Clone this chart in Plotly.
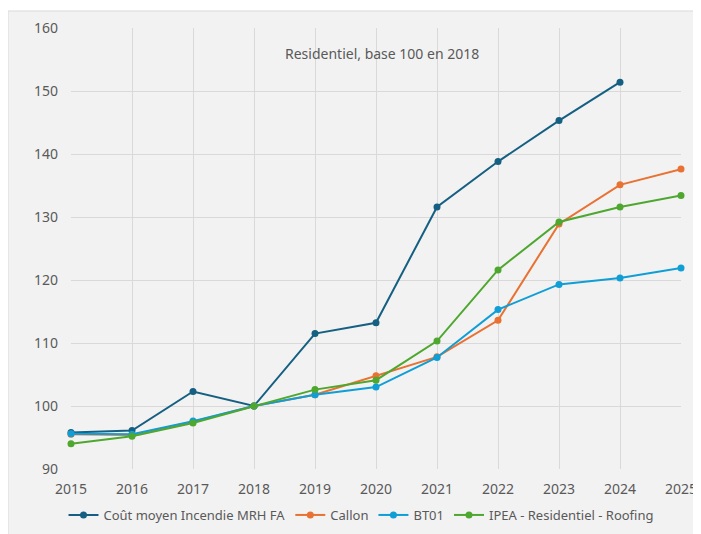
import plotly.graph_objects as go

years = [2015, 2016, 2017, 2018, 2019, 2020, 2021, 2022, 2023, 2024, 2025]

cout_moyen = [95.8, 96.1, 102.3, 100.0, 111.5, 113.2, 131.6, 138.8, 145.3, 151.4, None]
callon = [95.5, 95.4, 97.5, 100.0, 101.8, 104.8, 107.8, 113.6, 128.9, 135.1, 137.6]
bt01 = [95.6, 95.5, 97.6, 100.0, 101.8, 103.0, 107.7, 115.3, 119.3, 120.3, 121.9]
ipea = [94.0, 95.2, 97.3, 100.0, 102.6, 104.1, 110.3, 121.6, 129.2, 131.6, 133.4]

series = [
    ("Coût moyen Incendie MRH FA", cout_moyen, "#156082"),
    ("Callon", callon, "#E97132"),
    ("BT01", bt01, "#0F9ED5"),
    ("IPEA - Residentiel - Roofing", ipea, "#4EA72E"),
]

y_ticks = [90, 100, 110, 120, 130, 140, 150, 160]
title_text = "Residentiel, base 100 en 2018"

fig = go.Figure()
for name, vals, color in series:
    fig.add_trace(go.Scatter(
        x=years, y=vals, name=name, mode="lines+markers",
        line=dict(color=color, width=2),
        marker=dict(color=color, size=7),
        cliponaxis=False,
    ))

# page body has an 8px offset; figure is sized to fit the remaining viewport
OFF = 8
W, H = 693, 526
l, r, t, b = 63, 20, 20, 65
pw = W - l - r
ph = H - t - b

def px_x(sx):
    return (sx - OFF - l) / pw

def px_y(sy):
    return (H - b - (sy - OFF)) / ph

fig.add_shape(type="rect", xref="paper", yref="paper",
              x0=px_x(8), x1=px_x(702), y0=px_y(536), y1=px_y(11),
              fillcolor="#f2f2f2", line=dict(color="#d9d9d9", width=1),
              layer="below")

fig.add_annotation(text=title_text, xref="paper", yref="paper",
                   x=px_x(382), y=px_y(53), showarrow=False,
                   font=dict(size=14, color="#595959"),
                   xanchor="center", yanchor="middle")

fig.update_layout(
    width=W, height=H,
    margin=dict(l=l, r=r, t=t, b=b, autoexpand=False),
    paper_bgcolor="white",
    plot_bgcolor="rgba(0,0,0,0)",
    font=dict(family="Noto Sans, Lato, sans-serif", size=14, color="#595959"),
    showlegend=True,
    legend=dict(orientation="h", x=px_x(361), xanchor="center", y=px_y(515), yanchor="middle",
                font=dict(size=13, color="#595959"), bgcolor="rgba(0,0,0,0)",
                itemwidth=30, tracegroupgap=0),
    xaxis=dict(range=[2015, 2025], tickmode="array", tickvals=years,
               ticktext=[str(y) for y in years],
               showgrid=True, gridcolor="#d9d9d9", gridwidth=1,
               zeroline=False, showline=False, ticks="", ticklabelstandoff=10,
               fixedrange=True, automargin=False),
    yaxis=dict(range=[90, 160], tickmode="array", tickvals=y_ticks,
               showgrid=True, gridcolor="#d9d9d9", gridwidth=1,
               zeroline=False, showline=False, ticks="", ticklabelstandoff=12,
               fixedrange=True, automargin=False),
)

fig.write_html("out.html")
